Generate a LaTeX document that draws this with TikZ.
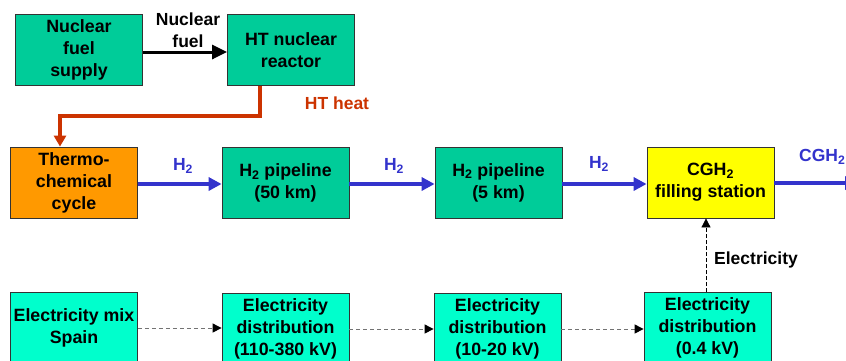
\documentclass[tikz,border=0pt]{standalone}
\usepackage{fontspec}
\setmainfont{Liberation Sans}
\usetikzlibrary{arrows.meta}
\definecolor{teal1}{RGB}{0,204,153}
\definecolor{cyan1}{RGB}{0,255,204}
\definecolor{orange1}{RGB}{255,153,0}
\definecolor{yellow1}{RGB}{255,255,0}
\definecolor{blue1}{RGB}{51,51,204}
\definecolor{red1}{RGB}{204,51,0}
\tikzset{
  box/.style={draw=black!80, line width=0.8pt, minimum width=127pt, minimum height=71pt,
    align=center, inner sep=1pt, font=\fontsize{17.8}{22}\selectfont\bfseries},
  blueflow/.style={draw=blue1, line width=3.5pt, -{Triangle[length=13pt,width=13pt]}},
  elecflow/.style={draw=black!55, line width=1pt, dashed, dash pattern=on 4pt off 3pt,
    -{Triangle[length=9pt,width=9pt,fill=black,color=black]}},
  lbl/.style={font=\fontsize{17.5}{22}\selectfont\bfseries, align=center, inner sep=0pt},
}
\begin{document}
\begin{tikzpicture}[x=1pt,y=-1pt]
\useasboundingbox (0,0) rectangle (846,360);
\clip (0,0) rectangle (846,360);
% top row
\node[box, fill=teal1] (nfs) at (79,50) {Nuclear\\fuel\\supply};
\node[box, fill=teal1] (htr) at (291,50) {\raisebox{-4pt}{HT nuclear}\\\raisebox{-4pt}{reactor}};
% middle row
\node[box, fill=orange1] (tcc) at (74,182.5) {Thermo-\\chemical\\cycle};
\node[box, fill=teal1] (p50) at (285.5,183) {H\textsubscript{2} pipeline\\(50 km)};
\node[box, fill=teal1] (p5) at (498.5,182.5) {H\textsubscript{2} pipeline\\(5 km)};
\node[box, fill=yellow1] (cgh) at (710.5,182.5) {\raisebox{-3pt}{CGH\textsubscript{2}}\\\raisebox{-3pt}{filling station}};
% bottom row
\node[box, fill=cyan1] (emix) at (74,328) {\raisebox{-4pt}{Electricity mix}\\\raisebox{-4pt}{Spain}};
\node[box, fill=cyan1] (ed1) at (285.5,329) {Electricity\\distribution\\(110-380 kV)};
\node[box, fill=cyan1] (ed2) at (497.5,329) {Electricity\\distribution\\(10-20 kV)};
\node[box, fill=cyan1] (ed3) at (707.5,328) {Electricity\\distribution\\(0.4 kV)};
\coordinate (out) at (858,183);
% connectors
\draw[line width=3pt, -{Triangle[length=15pt,width=14pt]}] (nfs.east |- 0,52) -- (htr.west |- 0,52);
\node[lbl] (nflbl) at (188,30) {Nuclear\\fuel};
\draw[draw=red1, line width=3.3pt, -{Triangle[length=11pt,width=12pt]}]
  (htr.south -| 260,0) -- (260,116) -- (60,116) -- (tcc.north -| 60,0);
\node[lbl, text=red1] (htheat) at (337,103) {HT heat};
\draw[blueflow] (tcc.east |- 0,184) -- (p50.west |- 0,184);
\node[lbl, text=blue1] (h2a) at (183,166) {H\textsubscript{2}};
\draw[blueflow] (p50.east |- 0,184) -- (p5.west |- 0,184);
\node[lbl, text=blue1] (h2b) at (394,166) {H\textsubscript{2}};
\draw[blueflow] (p5.east |- 0,184) -- (cgh.west |- 0,184);
\node[lbl, text=blue1] (h2c) at (599,164) {H\textsubscript{2}};
\draw[blueflow] (cgh.east |- 0,183) -- (out);
\node[lbl, text=blue1, anchor=west] (cghlbl) at (799,157) {CGH\textsubscript{2}};
\draw[elecflow] (emix.east |- 0,328) -- (ed1.west |- 0,328);
\draw[elecflow] (ed1.east |- 0,329) -- (ed2.west |- 0,329);
\draw[elecflow] (ed2.east |- 0,329) -- (ed3.west |- 0,329);
\draw[draw=black, line width=0.8pt, dashed, dash pattern=on 4pt off 2pt,
  -{Triangle[length=9pt,width=9pt]}] (ed3.north -| 706,0) -- (cgh.south -| 706,0);
\node[lbl, anchor=west] (ellbl) at (714,260) {Electricity};
\end{tikzpicture}
\end{document}
